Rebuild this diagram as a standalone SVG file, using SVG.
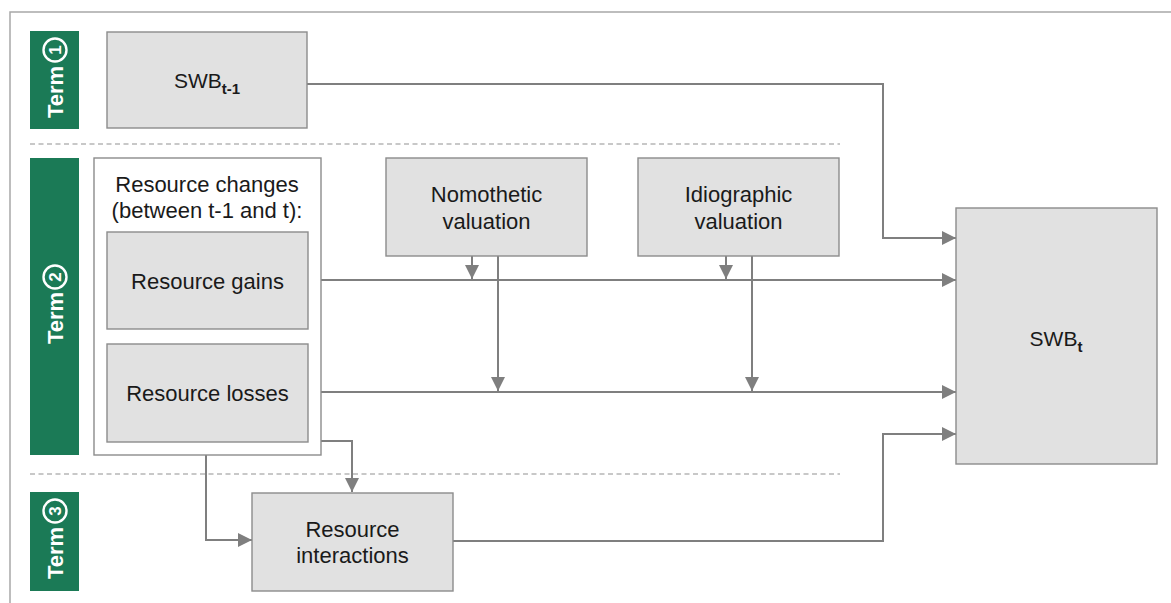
<svg xmlns="http://www.w3.org/2000/svg" width="1171" height="603" viewBox="0 0 1171 603">
  <style>
    .box { fill: #e1e1e1; stroke: #8c8c8c; stroke-width: 1.4; }
    .group-box { fill: #ffffff; stroke: #8c8c8c; stroke-width: 1.4; }
    .bar { fill: #1b7a56; }
    .lbl { font-family: "Liberation Sans", Arial, sans-serif; font-size: 22px; fill: #1a1a1a; text-anchor: middle; }
    .swb { font-family: "Liberation Sans", Arial, sans-serif; font-size: 21px; fill: #1a1a1a; }
    .sub { font-weight: bold; font-size: 15px; }
    .term { font-family: "Liberation Sans", Arial, sans-serif; font-size: 22px; font-weight: bold; fill: #ffffff; }
    .num { font-family: "Liberation Sans", Arial, sans-serif; font-size: 17px; font-weight: bold; fill: #ffffff; text-anchor: middle; }
    .ring { fill: none; stroke: #ffffff; stroke-width: 2.4; }
    .conn { fill: none; stroke: #7f7f7f; stroke-width: 2; }
    .sep { stroke: #c8c8c8; stroke-width: 2; stroke-dasharray: 5 3.5; }
    .frame { fill: none; stroke: #a8a8a8; stroke-width: 1.5; }
  </style>
  <defs>
    <marker id="arrow" markerUnits="userSpaceOnUse" markerWidth="15" markerHeight="15" refX="14" refY="7" orient="auto">
      <path d="M0,0 L14,7 L0,14 Z" fill="#7f7f7f"/>
    </marker>
  </defs>

  <rect width="1171" height="603" fill="#ffffff"/>

  <!-- open frame: top and left edges only -->
  <path class="frame" d="M10,603 V12 H1171"/>

  <!-- term separators -->
  <g id="separators">
    <line class="sep" x1="30" y1="144" x2="840" y2="144"/>
    <line class="sep" x1="30" y1="474" x2="840" y2="474"/>
  </g>

  <!-- term side bars -->
  <g id="term1">
    <rect class="bar" x="30" y="31" width="49" height="98"/>
    <text class="term" transform="translate(63,118) rotate(-90)">Term</text>
    <circle class="ring" cx="55" cy="50" r="11.5"/>
    <text class="num" transform="translate(61,50) rotate(-90)">1</text>
  </g>
  <g id="term2">
    <rect class="bar" x="30" y="158" width="49" height="297"/>
    <text class="term" transform="translate(63,344) rotate(-90)">Term</text>
    <circle class="ring" cx="55" cy="277" r="11.5"/>
    <text class="num" transform="translate(61,277) rotate(-90)">2</text>
  </g>
  <g id="term3">
    <rect class="bar" x="30" y="492" width="49" height="99"/>
    <text class="term" transform="translate(63,579) rotate(-90)">Term</text>
    <circle class="ring" cx="55" cy="511" r="11.5"/>
    <text class="num" transform="translate(61,511) rotate(-90)">3</text>
  </g>

  <!-- connectors -->
  <g id="connectors">
    <path class="conn" d="M307,84 H883 V238 H956" marker-end="url(#arrow)"/>
    <path class="conn" d="M308,280 H956" marker-end="url(#arrow)"/>
    <path class="conn" d="M308,392 H956" marker-end="url(#arrow)"/>
    <path class="conn" d="M453,541 H883 V434 H956" marker-end="url(#arrow)"/>
    <path class="conn" d="M321,441 H352 V492" marker-end="url(#arrow)"/>
    <path class="conn" d="M206,455 V540 H252" marker-end="url(#arrow)"/>
    <path class="conn" d="M472,256 V279" marker-end="url(#arrow)"/>
    <path class="conn" d="M498,256 V391" marker-end="url(#arrow)"/>
    <path class="conn" d="M726,256 V279" marker-end="url(#arrow)"/>
    <path class="conn" d="M752,256 V391" marker-end="url(#arrow)"/>
  </g>

  <!-- nodes -->
  <g id="swb-prev">
    <rect class="box" x="107" y="32" width="200" height="96"/>
    <text class="swb" x="207" y="88" text-anchor="middle">SWB<tspan class="sub" dy="5.5">t-1</tspan></text>
  </g>

  <g id="resource-changes">
    <rect class="group-box" x="94" y="158" width="227" height="297"/>
    <text class="lbl" x="207" y="192">Resource changes</text>
    <text class="lbl" x="207" y="218">(between t-1 and t):</text>
  </g>

  <g id="resource-gains">
    <rect class="box" x="107" y="232" width="201" height="97"/>
    <text class="lbl" x="207.5" y="289">Resource gains</text>
  </g>

  <g id="resource-losses">
    <rect class="box" x="107" y="344" width="201" height="98"/>
    <text class="lbl" x="207.5" y="401">Resource losses</text>
  </g>

  <g id="nomothetic">
    <rect class="box" x="386" y="158" width="201" height="98"/>
    <text class="lbl" x="486.5" y="202">Nomothetic</text>
    <text class="lbl" x="486.5" y="229">valuation</text>
  </g>

  <g id="idiographic">
    <rect class="box" x="638" y="158" width="201" height="98"/>
    <text class="lbl" x="738.5" y="202">Idiographic</text>
    <text class="lbl" x="738.5" y="229">valuation</text>
  </g>

  <g id="resource-interactions">
    <rect class="box" x="252" y="493" width="201" height="98"/>
    <text class="lbl" x="352.5" y="537">Resource</text>
    <text class="lbl" x="352.5" y="563">interactions</text>
  </g>

  <g id="swb-now">
    <rect class="box" x="956" y="208" width="201" height="256"/>
    <text class="swb" x="1056" y="346" text-anchor="middle">SWB<tspan class="sub" dy="5.5">t</tspan></text>
  </g>
</svg>
